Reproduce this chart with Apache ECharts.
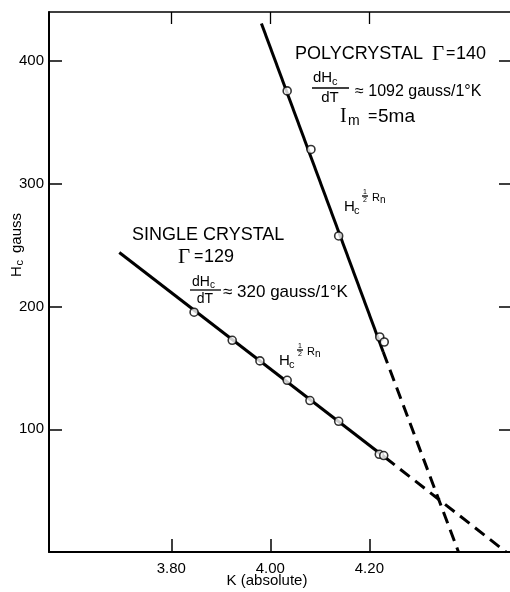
<!DOCTYPE html>
<html>
<head>
<meta charset="utf-8">
<script src="https://cdn.jsdelivr.net/npm/echarts@6/dist/echarts.min.js"></script>
<style>
html,body{margin:0;padding:0;background:#fff;}
#main{width:510px;height:592px;}
</style>
</head>
<body>
<div id="main"></div>
<script>
// 单晶测量点 (K, gauss)
var singleT = [3.846, 3.923, 3.979, 4.034, 4.080, 4.138, 4.220, 4.229];
var singleH = [195.4, 172.5, 155.7, 139.9, 123.4, 106.5, 79.6, 78.6];
// 多晶测量点
var polyT = [4.034, 4.082, 4.138, 4.221, 4.230];
var polyH = [375.7, 328.0, 257.5, 175.2, 171.1];
// 拟合直线 (实线) 与外推 (虚线)
var singleFitT = [3.695, 4.232];
var singleFitH = [244, 77];
var singleExtT = [4.232, 4.476];
var singleExtH = [77, 0];
var polyFitT = [3.982, 4.228];
var polyFitH = [430.6, 163];
var polyExtT = [4.228, 4.380];
var polyExtH = [163, 0];
// 刻度
var xTicks = [3.80, 4.00, 4.20];
var yTicks = [100, 200, 300, 400];

function pairs(xs, ys) {
    var out = [];
    for (var i = 0; i < xs.length; i++) {
        out.push([xs[i], ys[i]]);
    }
    return out;
}

var FONT = 'Liberation Sans';
function t(x, y, s, size, extra) {
    var st = {
        text: s,
        fill: '#000',
        font: (extra && extra.font) || (size + 'px "' + FONT + '"'),
        textAlign: (extra && extra.align) || 'left',
        textVerticalAlign: 'middle'
    };
    return {type: 'text', x: x, y: y, style: st, silent: true};
}
function bar(x1, x2, y) {
    return {type: 'line', shape: {x1: x1, y1: y, x2: x2, y2: y}, style: {stroke: '#000', lineWidth: 1.3}, silent: true};
}

var graphics = [
    // 多晶
    t(295, 54, 'POLYCRYSTAL', 18),
    t(432, 54, 'Γ', 20, {font: '21px "Liberation Serif"'}),
    t(446, 54, '=', 16),
    t(456, 54, '140', 18),
    t(313, 78, 'dH', 15),
    t(332, 82, 'c', 11),
    bar(312, 349, 88),
    t(330, 98, 'dT', 15, {align: 'center'}),
    t(355, 92, '≈ 1092 gauss/1°K', 16),
    t(340, 117, 'I', 20, {font: '20px "Liberation Serif"'}),
    t(348, 121, 'm', 14),
    t(368, 117, '=', 16),
    t(378, 117, '5ma', 19),
    t(344, 207, 'H', 15),
    t(354, 211, 'c', 11),
    t(365, 192, '1', 7, {align: 'center'}),
    bar(362, 368, 196),
    t(365, 200, '2', 7, {align: 'center'}),
    t(372, 198, 'R', 11),
    t(380, 200, 'n', 10),
    // 单晶
    t(132, 235, 'SINGLE CRYSTAL', 18),
    t(178, 257, 'Γ', 20, {font: '21px "Liberation Serif"'}),
    t(194, 257, '=', 16),
    t(204, 257, '129', 18),
    t(192, 282, 'dH', 14),
    t(210, 285, 'c', 10),
    bar(190, 221, 290),
    t(205, 299, 'dT', 14, {align: 'center'}),
    t(223, 292, '≈ 320 gauss/1°K', 17),
    t(279, 361, 'H', 15),
    t(289, 365, 'c', 11),
    t(300, 346, '1', 7, {align: 'center'}),
    bar(297, 303, 350),
    t(300, 354, '2', 7, {align: 'center'}),
    t(307, 352, 'R', 11),
    t(315, 354, 'n', 10),
    // 坐标轴名称
    t(267, 581, 'K (absolute)', 15, {align: 'center'}),
    {
        type: 'group', x: 17, y: 277, rotation: Math.PI / 2,
        children: [
            t(0, 0, 'H', 15),
            t(11.5, 3, 'c', 11),
            t(24, 0, 'gauss', 15)
        ]
    }
];

var myChart = echarts.init(document.getElementById('main'));
var option = {
    animation: false,
    backgroundColor: '#fff',
    grid: {left: 49, width: 463, top: 12, height: 540},
    xAxis: [
        {
            type: 'value',
            position: 'bottom',
            min: 3.553,
            max: 4.484,
            axisLine: {show: true, onZero: false, lineStyle: {color: '#000', width: 2}},
            axisTick: {show: true, inside: true, length: 13, customValues: xTicks, lineStyle: {color: '#000', width: 1.5}},
            axisLabel: {show: true, customValues: xTicks, margin: 9, color: '#000', fontSize: 15, fontFamily: FONT,
                formatter: function (v) { return v.toFixed(2); }},
            splitLine: {show: false}
        },
        {
            type: 'value',
            position: 'top',
            min: 3.553,
            max: 4.484,
            axisLine: {show: true, onZero: false, lineStyle: {color: '#000', width: 1.5}},
            axisTick: {show: true, inside: true, length: 12, customValues: xTicks, lineStyle: {color: '#000', width: 1.3}},
            axisLabel: {show: false},
            splitLine: {show: false}
        }
    ],
    yAxis: [
        {
            type: 'value',
            position: 'left',
            min: 0,
            max: 440,
            axisLine: {show: true, onZero: false, lineStyle: {color: '#000', width: 2}},
            axisTick: {show: true, inside: true, length: 13, customValues: yTicks, lineStyle: {color: '#000', width: 1.5}},
            axisLabel: {show: true, customValues: yTicks, margin: 5, color: '#000', fontSize: 15, fontFamily: FONT},
            splitLine: {show: false}
        },
        {
            type: 'value',
            position: 'right',
            min: 0,
            max: 440,
            axisLine: {show: false, onZero: false},
            axisTick: {show: true, inside: true, length: 11, customValues: yTicks, lineStyle: {color: '#000', width: 1.5}},
            axisLabel: {show: false},
            splitLine: {show: false}
        }
    ],
    series: [
        {
            name: 'single fit', type: 'line', symbol: 'none',
            data: pairs(singleFitT, singleFitH),
            lineStyle: {color: '#000', width: 3}
        },
        {
            name: 'single ext', type: 'line', symbol: 'none',
            data: pairs(singleExtT, singleExtH),
            lineStyle: {color: '#000', width: 3, type: [12, 7]}
        },
        {
            name: 'poly fit', type: 'line', symbol: 'none',
            data: pairs(polyFitT, polyFitH),
            lineStyle: {color: '#000', width: 3}
        },
        {
            name: 'poly ext', type: 'line', symbol: 'none',
            data: pairs(polyExtT, polyExtH),
            lineStyle: {color: '#000', width: 3, type: [12, 7]}
        },
        {
            name: 'single crystal', type: 'scatter', symbol: 'circle', symbolSize: 8, z: 5,
            data: pairs(singleT, singleH),
            itemStyle: {color: '#fff', borderColor: '#000', borderWidth: 1.6}
        },
        {
            name: 'polycrystal', type: 'scatter', symbol: 'circle', symbolSize: 8, z: 5,
            data: pairs(polyT, polyH),
            itemStyle: {color: '#fff', borderColor: '#000', borderWidth: 1.6}
        }
    ],
    graphic: {elements: graphics}
};
myChart.setOption(option);
</script>
</body>
</html>
